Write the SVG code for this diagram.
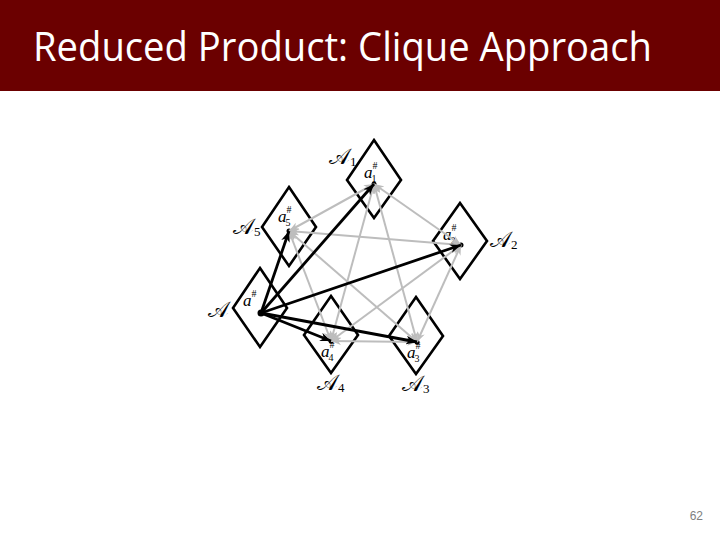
<svg xmlns="http://www.w3.org/2000/svg" width="720" height="540" viewBox="0 0 720 540">
<style>
.dia{fill:none;stroke:#000;stroke-width:2.6;stroke-linejoin:miter}
.g{stroke:#bdbdbd;stroke-width:2;fill:none;marker-end:url(#hg);marker-start:url(#hg)}
.b{stroke:#000;stroke-width:2.8;fill:none;marker-end:url(#hb)}
.lab{font-family:"DejaVu Serif","DejaVu Sans",serif;font-size:22px;fill:#000}
.sub{font-family:"Liberation Serif",serif;font-size:13px}
.av{font-family:"Liberation Serif",serif;font-style:italic;font-size:17px;fill:#000}
.sup{font-family:"Liberation Serif",serif;font-size:10px;font-style:normal}
</style>
<defs>
<marker id="hg" viewBox="0 0 10 8" refX="10" refY="4" markerWidth="10" markerHeight="8" markerUnits="userSpaceOnUse" orient="auto-start-reverse">
<path d="M0,0 L10,4 L0,8 L3,4 Z" fill="#bdbdbd"/>
</marker>
<marker id="hb" viewBox="0 0 10 8" refX="10" refY="4" markerWidth="11" markerHeight="9" markerUnits="userSpaceOnUse" orient="auto-start-reverse">
<path d="M0,0 L10,4 L0,8 L3,4 Z" fill="#000"/>
</marker>
</defs>
<rect x="0" y="0" width="720" height="91" fill="#6b0000"/>
<text x="33" y="61" font-family="'Open Sans','Liberation Sans',sans-serif" font-size="40" fill="#fff" textLength="619" lengthAdjust="spacingAndGlyphs">Reduced Product: Clique Approach</text>
<text x="703" y="520" text-anchor="end" font-family="'Liberation Sans',sans-serif" font-size="12" fill="#808080">62</text>

<g id="node-A1"><polygon class="dia" points="374,140 401,180 374,218 347,180"/><circle cx="374" cy="184" r="2.5"/>
<text class="lab" x="329" y="164">𝒜<tspan class="sub" dy="2">1</tspan></text>
<text class="av" x="364" y="178">a<tspan class="sup" dy="-9">#</tspan><tspan class="sup" dx="-6" dy="13">1</tspan></text></g>
<g id="node-A5"><polygon class="dia" points="289,187 316,227 289,266 262,227"/><circle cx="289" cy="231" r="2.5"/>
<text class="lab" x="233" y="234">𝒜<tspan class="sub" dy="2">5</tspan></text>
<text class="av" x="278" y="222">a<tspan class="sup" dy="-9">#</tspan><tspan class="sup" dx="-6" dy="13">5</tspan></text></g>
<g id="node-A2"><polygon class="dia" points="460,203 487,241 460,279 433,241"/><circle cx="461" cy="245" r="2.5"/>
<text class="lab" x="490" y="247">𝒜<tspan class="sub" dy="2">2</tspan></text>
<text class="av" x="443" y="240">a<tspan class="sup" dy="-9">#</tspan><tspan class="sup" dx="-6" dy="13">2</tspan></text></g>
<g id="node-A"><polygon class="dia" points="260,268 287,308 260,347 233,308"/><circle cx="261" cy="313" r="3.5"/>
<text class="lab" x="208" y="317">𝒜</text>
<text class="av" x="243" y="306">a<tspan class="sup" dy="-9">#</tspan></text></g>
<g id="node-A4"><polygon class="dia" points="331,296 358,335 331,373 304,335"/><circle cx="331" cy="341" r="2.5"/>
<text class="lab" x="317" y="390">𝒜<tspan class="sub" dy="2">4</tspan></text>
<text class="av" x="321" y="357">a<tspan class="sup" dy="-9">#</tspan><tspan class="sup" dx="-6" dy="13">4</tspan></text></g>
<g id="node-A3"><polygon class="dia" points="416,297 443,336 416,374 389,336"/><circle cx="417" cy="342" r="2.5"/>
<text class="lab" x="402" y="391">𝒜<tspan class="sub" dy="2">3</tspan></text>
<text class="av" x="407" y="358">a<tspan class="sup" dy="-9">#</tspan><tspan class="sup" dx="-6" dy="13">3</tspan></text></g>

<g id="connectors">
<line class="g" x1="374" y1="184" x2="289" y2="231"/>
<line class="g" x1="374" y1="184" x2="461" y2="245"/>
<line class="g" x1="374" y1="184" x2="331" y2="341"/>
<line class="g" x1="374" y1="184" x2="417" y2="342"/>
<line class="g" x1="289" y1="231" x2="461" y2="245"/>
<line class="g" x1="289" y1="231" x2="331" y2="341"/>
<line class="g" x1="289" y1="231" x2="417" y2="342"/>
<line class="g" x1="461" y1="245" x2="331" y2="341"/>
<line class="g" x1="461" y1="245" x2="417" y2="342"/>
<line class="g" x1="331" y1="341" x2="417" y2="342"/>
<line class="b" x1="261" y1="313" x2="374" y2="184"/>
<line class="b" x1="261" y1="313" x2="289" y2="231"/>
<line class="b" x1="261" y1="313" x2="461" y2="245"/>
<line class="b" x1="261" y1="313" x2="331" y2="341"/>
<line class="b" x1="261" y1="313" x2="417" y2="342"/>
</g>
</svg>
